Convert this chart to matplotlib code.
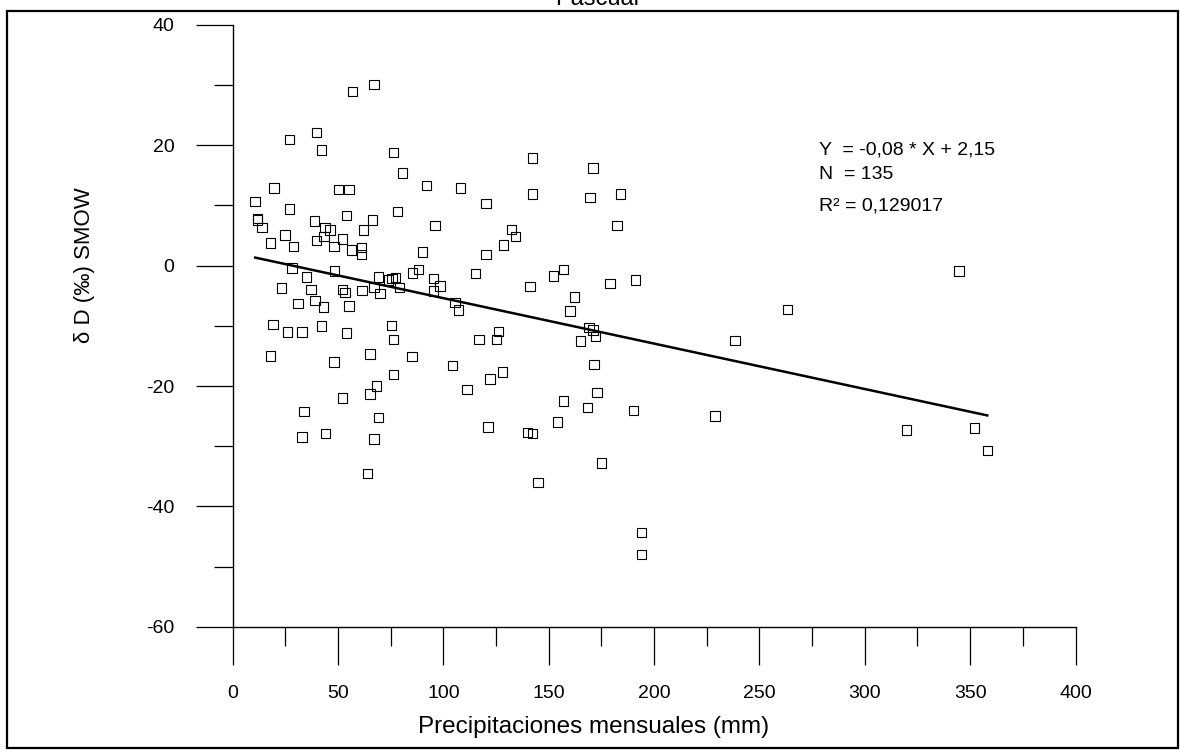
import matplotlib
matplotlib.use("Agg")
import matplotlib.pyplot as plt
from matplotlib.patches import Rectangle
from matplotlib.ticker import MultipleLocator

plt.rcParams["font.family"] = ["Liberation Sans", "DejaVu Sans"]
plt.rcParams["axes.unicode_minus"] = False

# monthly precipitation (mm) and deuterium (permil SMOW)
precip = [
    57.0, 67.1, 26.9, 39.9, 42.1, 76.2, 80.7, 19.6, 50.1, 55.2,
    92.1, 10.7, 26.9, 54.1, 78.1, 11.9, 11.9, 13.9, 38.9, 66.3,
    96.0, 43.9, 46.2, 62.2, 24.8, 18.0, 39.9, 43.3, 52.0, 29.0,
    48.1, 56.3, 61.2, 61.2, 90.2, 88.3, 85.4, 28.1, 35.1, 48.2,
    69.1, 74.0, 75.6, 77.2, 95.2, 98.4, 95.2, 67.1, 69.9, 79.1,
    23.3, 37.2, 52.2, 53.3, 61.4, 31.1, 39.1, 43.0, 55.2, 19.1,
    25.9, 33.0, 42.1, 54.1, 75.3, 76.2, 18.0, 48.1, 65.2, 85.2,
    76.2, 68.3, 65.2, 52.2, 33.8, 69.1, 33.0, 44.1, 67.1, 64.1,
    108.2, 120.2, 142.2, 142.2, 171.1, 169.6, 184.1, 182.3, 132.4, 134.3,
    128.4, 120.2, 115.3, 141.1, 152.2, 157.1, 162.1, 160.1, 179.1, 191.3,
    105.5, 107.3, 169.1, 171.1, 172.3, 165.2, 126.2, 125.3, 117.0, 104.2,
    128.1, 122.1, 111.2, 171.5, 173.0, 156.9, 168.5, 190.1, 154.1, 229.0,
    175.1, 194.1, 194.1, 121.2, 140.0, 142.2, 145.0, 344.6, 263.4, 238.3,
    319.9, 352.0, 358.1,
]
delta_d = [
    28.9, 30.1, 21.0, 22.1, 19.2, 18.8, 15.4, 12.9, 12.7, 12.7,
    13.3, 10.7, 9.4, 8.3, 9.0, 7.8, 7.6, 6.3, 7.4, 7.6,
    6.7, 6.3, 5.9, 5.9, 5.1, 3.8, 4.2, 4.8, 4.4, 3.2,
    3.2, 2.6, 3.0, 1.9, 2.3, -0.6, -1.2, -0.4, -1.9, -0.9,
    -1.9, -2.4, -2.1, -2.0, -2.1, -3.4, -4.2, -3.6, -4.6, -3.6,
    -3.7, -4.0, -4.0, -4.5, -4.1, -6.3, -5.8, -6.9, -6.7, -9.8,
    -11.0, -11.0, -10.0, -11.2, -9.9, -12.3, -15.0, -16.0, -14.7, -15.1,
    -18.1, -20.0, -21.3, -22.0, -24.2, -25.2, -28.5, -27.9, -28.8, -34.5,
    12.9, 10.3, 17.9, 11.9, 16.2, 11.3, 11.9, 6.7, 6.0, 4.8,
    3.4, 1.9, -1.3, -3.5, -1.7, -0.6, -5.2, -7.5, -3.0, -2.4,
    -6.1, -7.4, -10.3, -10.7, -11.8, -12.5, -10.9, -12.3, -12.3, -16.6,
    -17.7, -18.8, -20.6, -16.4, -21.1, -22.5, -23.6, -24.1, -26.0, -25.0,
    -32.8, -44.3, -48.0, -26.8, -27.7, -27.9, -36.0, -0.9, -7.3, -12.4,
    -27.3, -27.0, -30.7,
]

# least squares line as drawn (label rounds it)
fit_slope = -0.0755
fit_intercept = 2.15
fit_text = ["Y  = -0,08 * X + 2,15", "N  = 135", "R\u00b2 = 0,129017"]


def main():
    fig = plt.figure(figsize=(11.81, 7.52), dpi=100)
    ax = fig.add_axes([0.197, 0.1666, 0.7137, 0.8002])

    ax.scatter(precip, delta_d, marker="s", s=46, facecolors="none",
               edgecolors="black", linewidths=0.8, zorder=3)

    x0, x1 = min(precip), max(precip)
    ax.plot([x0, x1], [fit_slope * x0 + fit_intercept, fit_slope * x1 + fit_intercept],
            color="black", linewidth=1.8, zorder=2)

    ax.set_xlim(0, 400)
    ax.set_ylim(-60, 40)
    ax.xaxis.set_major_locator(MultipleLocator(50))
    ax.xaxis.set_minor_locator(MultipleLocator(25))
    ax.yaxis.set_major_locator(MultipleLocator(20))
    ax.yaxis.set_minor_locator(MultipleLocator(10))
    for s in ("top", "right"):
        ax.spines[s].set_visible(False)
    for s in ("left", "bottom"):
        ax.spines[s].set_linewidth(1.0)
    ax.tick_params(which="major", direction="out", length=27, width=0.9,
                   labelsize=14, pad=15)
    ax.tick_params(which="minor", direction="out", length=13.5, width=0.9)

    ax.set_xlabel("Precipitaciones mensuales (mm)", fontsize=17.5)
    ax.xaxis.set_label_coords(0.4287, -0.148)
    ax.set_ylabel("\u03b4 D (\u2030) SMOW", fontsize=16)
    ax.yaxis.set_label_coords(-0.163, 0.601)

    for txt, yy in zip(fit_text, (0.784, 0.744, 0.692)):
        ax.text(0.696, yy, txt, transform=ax.transAxes, fontsize=14,
                va="baseline", ha="left")

    # title is clipped by the top edge in the original scan
    fig.text(0.506, 0.993, "Pascual", fontsize=17, ha="center", va="baseline")
    fig.patches.append(Rectangle((0.0059, 0.0053), 0.9915, 0.980,
                                 transform=fig.transFigure, fill=False,
                                 edgecolor="black", linewidth=1.6))

    fig.savefig("out.png", dpi=100)


if __name__ == "__main__":
    main()
